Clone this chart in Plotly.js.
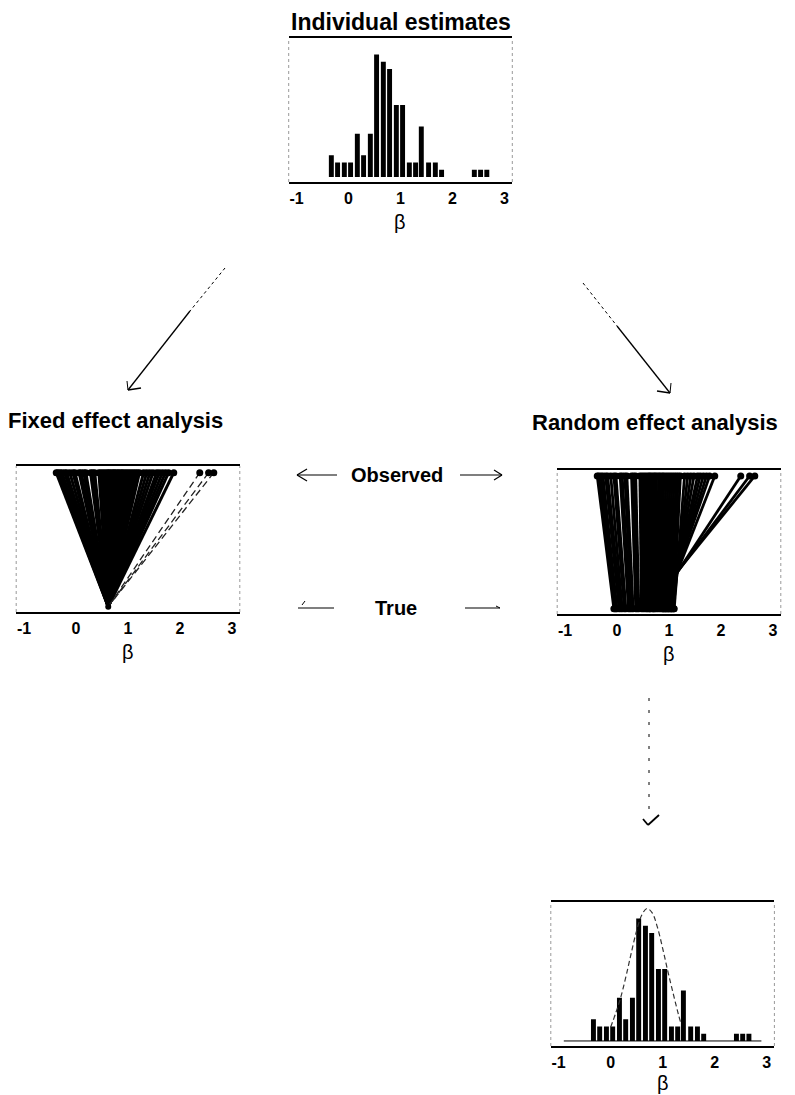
<!DOCTYPE html>
<html><head><meta charset="utf-8">
<script src="https://cdn.plot.ly/plotly-3.0.1.min.js"></script>
<style>html,body{margin:0;padding:0;background:#fff}#chart{width:795px;height:1095px}</style>
</head><body><div id="chart"></div>
<script>
// ---------- data ----------
const binCenters = [-0.33, -0.21, -0.08, 0.04, 0.17, 0.29, 0.42, 0.54, 0.67, 0.79, 0.92, 1.04, 1.17, 1.29, 1.40, 1.54, 1.67, 1.79, 2.42, 2.54, 2.66];
const binCounts  = [3, 2, 2, 2, 6, 3, 6, 17, 16, 15, 10, 10, 2, 2, 7, 2, 2, 1, 1, 1, 1];

const observed = [-0.38, -0.35, -0.31, -0.27, -0.22, -0.18, -0.12, -0.06, -0.02, 0.06, 0.10, 0.15, 0.19, 0.28, 0.32, 0.36,
  0.44, 0.48, 0.52, 0.56, 0.60, 0.63, 0.66, 0.70, 0.73, 0.76, 0.80, 0.83, 0.87, 0.90, 0.94, 0.98, 1.02, 1.06, 1.10, 1.14,
  1.18, 1.22, 1.30, 1.36, 1.42, 1.48, 1.55, 1.60, 1.66, 1.72, 1.78, 1.88, 2.38, 2.55, 2.65];
const randomTrue = [-0.06, -0.04, -0.02, 0.00, 0.04, 0.07, 0.10, 0.14, 0.17, 0.22, 0.25, 0.28, 0.31, 0.36, 0.39, 0.42,
  0.47, 0.50, 0.53, 0.56, 0.60, 0.63, 0.66, 0.69, 0.72, 0.74, 0.77, 0.80, 0.83, 0.86, 0.89, 0.92, 0.95, 0.98, 1.01, 1.04,
  1.06, 1.09, 1.10, 1.08, 1.05, 1.03, 1.00, 0.98, 0.95, 0.93, 0.90, 0.88, 0.70, 0.63, 0.58];
const fixedEstimate = 0.62;

const curveBeta    = [0.0, 0.1, 0.2, 0.3, 0.4, 0.5, 0.6, 0.7, 0.8, 0.9, 1.0, 1.1, 1.2, 1.3, 1.35];
const curveDensity = [1.9, 3.9, 6.2, 9.1, 12.3, 15.3, 17.5, 18.4, 17.8, 15.8, 12.9, 9.7, 6.7, 3.8, 2.5];
const baselineBeta = [-0.9, 2.9];
const baselineVal  = [0, 0];

const tickVals = [-1, 0, 1, 2, 3];
const tickText = ['-1', '0', '1', '2', '3'];
const axisLabel = 'β';

// ---------- helpers ----------
const W = 795, H = 1095;
const P = x => x / W, Q = y => 1 - y / H;
const FONT = 'Liberation Sans, Arial, sans-serif';

function fan(from, to) {
  const xs = [], ys = [];
  from.forEach((o, i) => { xs.push(o, Array.isArray(to) ? to[i] : to, null); ys.push(1, 0, null); });
  return { xs, ys };
}
const mainIdx = observed.map((o, i) => i).filter(i => observed[i] < 2);
const outIdx = observed.map((o, i) => i).filter(i => observed[i] >= 2);
const fixedMain = fan(mainIdx.map(i => observed[i]), fixedEstimate);
const fixedOut = fan(outIdx.map(i => observed[i]), fixedEstimate);
const randFan = fan(observed, randomTrue);

const traces = [
  { type: 'bar', x: binCenters, y: binCounts, width: 0.095, marker: { color: '#000', line: { width: 0 } }, xaxis: 'x', yaxis: 'y' },

  { type: 'scatter', mode: 'lines', x: fixedMain.xs, y: fixedMain.ys, line: { color: '#000', width: 3 }, xaxis: 'x2', yaxis: 'y2', connectgaps: false },
  { type: 'scatter', mode: 'lines', x: fixedOut.xs, y: fixedOut.ys, line: { color: '#222', width: 1.3, dash: '7px,4px' }, xaxis: 'x2', yaxis: 'y2', connectgaps: false },
  { type: 'scatter', mode: 'markers', x: observed, y: observed.map(() => 1), marker: { color: '#000', size: 7 }, xaxis: 'x2', yaxis: 'y2' },
  { type: 'scatter', mode: 'markers', x: [fixedEstimate], y: [0], marker: { color: '#000', size: 6 }, xaxis: 'x2', yaxis: 'y2' },

  { type: 'scatter', mode: 'lines', x: randFan.xs, y: randFan.ys, line: { color: '#000', width: 2.8 }, xaxis: 'x3', yaxis: 'y3', connectgaps: false },
  { type: 'scatter', mode: 'markers', x: observed, y: observed.map(() => 1), marker: { color: '#000', size: 7 }, xaxis: 'x3', yaxis: 'y3' },
  { type: 'scatter', mode: 'markers', x: randomTrue, y: randomTrue.map(() => 0), marker: { color: '#000', size: 7 }, xaxis: 'x3', yaxis: 'y3' },

  { type: 'scatter', mode: 'lines', x: baselineBeta, y: baselineVal, line: { color: '#000', width: 1 }, xaxis: 'x4', yaxis: 'y4' },
  { type: 'bar', x: binCenters, y: binCounts, width: 0.095, marker: { color: '#000', line: { width: 0 } }, xaxis: 'x4', yaxis: 'y4' },
  { type: 'scatter', mode: 'lines', x: curveBeta, y: curveDensity, line: { color: '#333', width: 1.2, dash: '5px,3px', shape: 'spline' }, xaxis: 'x4', yaxis: 'y4' }
];

function xa(left, right, anchor) {
  return {
    domain: [P(left), P(right)], range: [-1.15, 3.15], anchor: anchor,
    tickmode: 'array', tickvals: tickVals, ticktext: tickText,
    showgrid: false, zeroline: false, showline: true, mirror: true, linecolor: '#000', linewidth: 1.6,
    ticks: 'outside', ticklen: 1, tickcolor: 'rgba(0,0,0,0)',
    tickfont: { family: FONT, size: 16, weight: 'bold', color: '#000' },
    fixedrange: true
  };
}
function ya(top, bottom, range, anchor) {
  return {
    domain: [Q(bottom), Q(top)], range: range, anchor: anchor,
    showgrid: false, zeroline: false, showline: false, showticklabels: false, ticks: '', fixedrange: true
  };
}

function seg(x0, y0, x1, y1, w, dash) {
  return { type: 'line', xref: 'paper', yref: 'paper', x0: P(x0), y0: Q(y0), x1: P(x1), y1: Q(y1),
    line: { color: '#000', width: w || 1.2, dash: dash || 'solid' } };
}
function sides(ax) {
  const xr = ax + ' domain', yr = ax.replace('x', 'y') + ' domain';
  return [0, 1].map(v => ({ type: 'line', xref: xr, yref: yr, x0: v, x1: v, y0: 0, y1: 1,
    line: { color: '#999', width: 1, dash: 'dot' } }));
}

const shapes = [].concat(
  sides('x'), sides('x2'), sides('x3'), sides('x4'),
  [
    // left diagonal arrow
    seg(225, 268, 190, 311, 1, 'dot'), seg(190, 311, 128, 390, 1.3),
    seg(128, 390, 141, 388, 1.5), seg(128, 390, 127, 381, 1),
    // right diagonal arrow
    seg(583, 283, 617, 326, 1, 'dot'), seg(617, 326, 670, 393, 1.3),
    seg(670, 393, 657, 391, 1.5), seg(670, 393, 671, 383, 1),
    // observed arrows
    seg(297, 475, 337, 475, 1.2), seg(297, 475, 307, 469, 1.2), seg(297, 475, 307, 481, 1.2),
    seg(460, 475, 502, 475, 1.2), seg(502, 475, 494, 470, 1.2), seg(502, 475, 494, 480, 1.2),
    // true arrows
    seg(298, 608, 334, 608, 1.2), seg(302, 605, 305, 601, 1),
    seg(465, 608, 500, 608, 1.2), seg(500, 608, 496, 606, 1),
    // vertical arrow
    seg(649, 698, 649, 818, 1, '3px,9px'), seg(643, 819, 648, 825, 1.8), seg(648, 825, 659, 815, 1.8)
  ]
);

function lab(text, x, y, size) {
  return { text: text, x: P(x), y: Q(y), xref: 'paper', yref: 'paper', xanchor: 'center', yanchor: 'middle',
    showarrow: false, font: { family: FONT, size: size, weight: 'bold', color: '#000' } };
}
function betaLabel(ax, y) {
  return { text: axisLabel, xref: ax + ' domain', x: 0.5, yref: 'paper', y: Q(y), xanchor: 'center', yanchor: 'middle',
    showarrow: false, font: { family: FONT, size: 20, color: '#000' } };
}

const layout = {
  width: W, height: H, margin: { l: 0, r: 0, t: 0, b: 0 }, showlegend: false,
  paper_bgcolor: '#fff', plot_bgcolor: '#fff', barmode: 'overlay',
  xaxis: xa(288.7, 512.3, 'y'),  yaxis: ya(38, 182, [-0.7, 19.3], 'x'),
  xaxis2: xa(16.2, 239.8, 'y2'), yaxis2: ya(466, 612, [-0.04, 1.05], 'x2'),
  xaxis3: xa(557.2, 780.8, 'y3'), yaxis3: ya(470, 614, [-0.04, 1.045], 'x3'),
  xaxis4: xa(550.8, 774.4, 'y4'), yaxis4: ya(902, 1046, [-0.7, 19.3], 'x4'),
  shapes: shapes,
  annotations: [
    lab('Individual estimates', 401, 22, 23),
    lab('Fixed effect analysis', 115, 420, 22),
    lab('Random effect analysis', 655, 422, 22),
    lab('Observed', 397, 475, 20),
    lab('True', 396, 608, 20),
    betaLabel('x', 222), betaLabel('x2', 652), betaLabel('x3', 654), betaLabel('x4', 1083)
  ]
};

Plotly.newPlot('chart', traces, layout, { displayModeBar: false, staticPlot: true });
</script>
</body></html>
